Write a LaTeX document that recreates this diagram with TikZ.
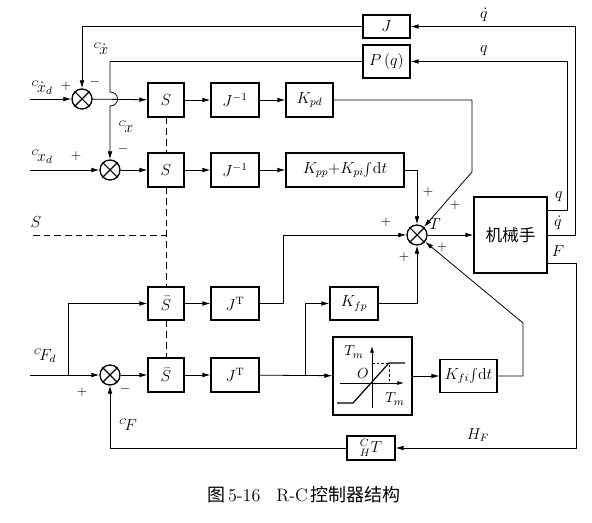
\documentclass[tikz,border=0pt]{standalone}
\usepackage{fontspec}
\newfontfamily\cjk{Noto Sans CJK SC}
\usetikzlibrary{arrows.meta,calc}
\newcommand{\crd}{{}^{\scriptscriptstyle C}\!}
\begin{document}
\begin{tikzpicture}[x=0.75pt,y=-0.75pt,
  every node/.style={font=\fontsize{12}{14}\selectfont},
  blk/.style={draw,line width=0.9pt,rectangle,inner sep=0pt,anchor=center},
  sumj/.style={draw,circle,line width=1pt,minimum size=15pt,inner sep=0pt},
  ln/.style={line width=0.6pt},
  ar/.style={ln,-{Latex[length=6pt,width=3.5pt]}},
  dsh/.style={ln,dash pattern=on 5pt off 3pt},
  lbl/.style={inner sep=0pt},
  pm/.style={font=\fontsize{10}{12}\selectfont,inner sep=0pt}]
\useasboundingbox (0,0) rectangle (592,523);

% summing junctions
\node[sumj] (s1) at (82,99) {};
\node[sumj] (s2) at (110,170) {};
\node[sumj] (s3) at (417,235) {};
\node[sumj] (s4) at (110,375) {};
\foreach \n in {s1,s2,s3,s4} \draw[line width=0.8pt] (\n.45)--(\n.225) (\n.135)--(\n.315);

% blocks
\node[blk,minimum width=27pt,minimum height=25.5pt] (S1) at (166,100) {$S$};
\node[blk,minimum width=27pt,minimum height=25.5pt] (S2) at (166,170) {$S$};
\node[blk,minimum width=36pt,minimum height=25.5pt] (Ji1) at (235,100) {$J^{-1}$};
\node[blk,minimum width=36pt,minimum height=25.5pt] (Ji2) at (235,170) {$J^{-1}$};
\node[blk,minimum width=35.25pt,minimum height=25.5pt] (Kpd) at (309.5,100) {$K_{pd}$};
\node[blk,minimum width=88.5pt,minimum height=25.5pt] (Kpp) at (345,170) {$K_{pp}{+}K_{pi}\!\int\!\mathrm{d}t$};
\node[blk,minimum width=35.25pt,minimum height=17.25pt] (J) at (386.5,26.5) {$J$};
\node[blk,minimum width=35.25pt,minimum height=24.75pt] (P) at (386.5,61.5) {$P\,(q)$};
\node[blk,minimum width=54.75pt,minimum height=57pt] (robot) at (510.5,235) {\cjk\fontsize{12.5}{14}\selectfont 机械手};
\node[blk,minimum width=27pt,minimum height=24.75pt] (Sb1) at (166,303.5) {$\bar{S}$};
\node[blk,minimum width=27pt,minimum height=25.5pt] (Sb2) at (166,375) {$\bar{S}$};
\node[blk,minimum width=36pt,minimum height=24.75pt] (JT1) at (235,303.5) {$J^{\mathrm{T}}$};
\node[blk,minimum width=36pt,minimum height=25.5pt] (JT2) at (235,375) {$J^{\mathrm{T}}$};
\node[blk,minimum width=36pt,minimum height=24.75pt] (Kfp) at (354,303.5) {$K_{fp}$};
\node[blk,minimum width=59.25pt,minimum height=58.5pt] (sat) at (372.5,376) {};
\node[blk,minimum width=42.75pt,minimum height=24.75pt] (Kfi) at (468.5,376) {$K_{fi}\!\int\!\mathrm{d}t$};
\node[blk,minimum width=36pt,minimum height=18pt] (HT) at (371,448) {${}^{C}_{H}T$};

% saturation characteristic
\draw[ln,-{Latex[length=5pt,width=3pt]}] (372,408) -- (372,346);
\draw[ln,-{Latex[length=5pt,width=3pt]}] (340,383) -- (404,383);
\draw[line width=0.9pt] (337,403) -- (353,403) -- (389,363) -- (405,363);
\draw[ln,dash pattern=on 2pt off 1.5pt] (372,363) -- (389,363) -- (389,383);
\node[lbl,font=\fontsize{11}{13}\selectfont] (tm1) at (354,352) {$T_m$};
\node[lbl,font=\fontsize{11}{13}\selectfont] (o) at (363,374) {$O$};
\node[lbl,font=\fontsize{11}{13}\selectfont] (tm2) at (395,399) {$T_m$};

% free ends
\coordinate (in1) at (30,99);
\coordinate (in2) at (30,170);
\coordinate (in3) at (30,375);
\coordinate (br1) at (68,375);
\coordinate (br2) at (305,375);
\coordinate (kd) at (472,172);
\coordinate (ki) at (523,323);
\coordinate (sd) at (33,235);

% connectors
\draw[ar] (in1) -- (s1);
\draw[ar] (s1) -- (S1);
\draw[ar] (J.west) -| (s1.north);
\draw[ar] (P.west) -- (P.west -| s2.north) -- ($(s1.east -| s2.north)+(0,-7)$)
   .. controls ($(s1.east -| s2.north)+(10,-7)$) and ($(s1.east -| s2.north)+(10,7)$) ..
   ($(s1.east -| s2.north)+(0,7)$) -- (s2.north);
\draw[ar] (in2) -- (s2);
\draw[ar] (s2) -- (S2);
\draw[ar] (S1) -- (Ji1);
\draw[ar] (Ji1) -- (Kpd);
\draw[ar] (S2) -- (Ji2);
\draw[ar] (Ji2) -- (Kpp);
\draw[ar] (Kpd.east) -| (kd) -- (s3);
\draw[ar] (Kpp.east) -| (s3.north);
\draw[ar] (s3) -- (robot);
\draw[ar] (robot.east) -- ++(28,0) |- (J.east);
\draw[ar] ($(robot.east)+(0,-25)$) -- ++(20,0) |- (P.east);
\draw[ar] ($(robot.east)+(0,28)$) -- ++(29,0) |- (HT.east);
\draw[ar] (HT.west) -| (s4.south);
\draw[ar] (in3) -- (s4);
\draw[ar] (br1) |- (Sb1.west);
\draw[ar] (s4) -- (Sb2);
\draw[ar] (Sb1) -- (JT1);
\draw[ar] (Sb2) -- (JT2);
\draw[ar] (JT1.east) -- ++(24,0) |- (s3.west);
\draw[ar] (JT2) -- (sat);
\draw[ar] (br2) |- (Kfp.west);
\draw[ar] (Kfp.east) -| (s3.south);
\draw[ar] (sat) -- (Kfi);
\draw[ar] (Kfi.east) -| (ki) -- (s3);

% dashed selection lines
\draw[dsh] (S1.south) -- (S2.north);
\draw[dsh] (S2.south) -- (Sb1.north);
\draw[dsh] (Sb1.south) -- (Sb2.north);
\draw[dsh] (sd) -- (sd -| S1.south);

% labels
\node[lbl] (lxd) at (42,88) {$\crd\dot{x}_d$};
\node[pm] (p1) at (66,86) {$+$};
\node[pm] (m1) at (95,82) {$-$};
\node[lbl] (lxdot) at (101,49) {$\crd\dot{x}$};
\node[lbl] (lx) at (126,127) {$\crd x$};
\node[lbl] (lxd2) at (42,157) {$\crd x_d$};
\node[pm] (p2) at (76,156) {$+$};
\node[pm] (m2) at (123,149) {$-$};
\node[lbl] (lS) at (36,222) {$S$};
\node[lbl] (lFd) at (45,356) {$\crd F_d$};
\node[pm] (p4) at (82,392) {$+$};
\node[pm] (m4) at (125,389) {$-$};
\node[lbl] (lF) at (128,425) {$\crd F$};
\node[lbl] (lHF) at (478,435) {$H_F$};
\node[lbl] (lqd) at (484,15) {$\dot{q}$};
\node[lbl] (lq) at (484,51) {$q$};
\node[lbl] (lq2) at (559,197) {$q$};
\node[lbl] (lqd2) at (558,223) {$\dot{q}$};
\node[lbl] (lFr) at (558,251) {$F$};
\node[lbl] (lT) at (435,224) {$T$};
\node[pm] (p31) at (428,192) {$+$};
\node[pm] (p32) at (455,205) {$+$};
\node[pm] (p33) at (386,222) {$+$};
\node[pm] (p34) at (404,257) {$+$};
\node[pm] (p35) at (442,247) {$+$};

% caption
\node[lbl,font=\fontsize{13.5}{16}\selectfont] (cap) at (304,495) {{\cjk 图}\,5-16\hspace{12pt}R-C\,{\cjk 控制器结构}};
\end{tikzpicture}
\end{document}
